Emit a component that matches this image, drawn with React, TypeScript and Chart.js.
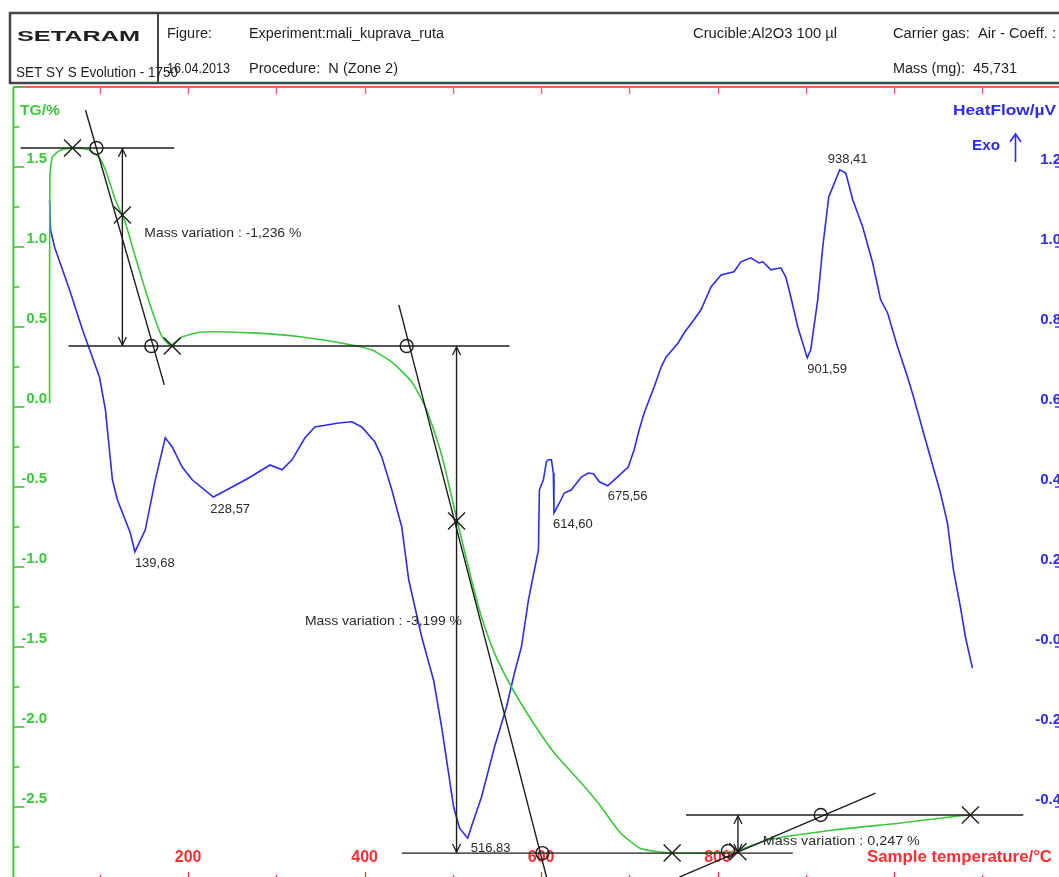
import React, { useEffect, useRef } from 'react';
import { Chart, registerables } from 'chart.js';
Chart.register(...registerables);

const FONT = "'Liberation Sans', Arial, Helvetica, sans-serif";

// ---------- data ----------
// TG curve: temperature (°C) and mass change (%)
const tgTemp = [
  43.0, 43.3, 46.4, 55.4, 69.0, 88.2, 99.5, 106.3, 117.6, 128.9,
  140.2, 151.5, 162.8, 170.7, 179.8, 193.3, 215.9, 272.5, 329.0, 385.5,
  408.1, 430.8, 453.4, 470.3, 487.3, 504.2, 521.2, 532.5, 547.2, 566.4,
  589.0, 615.0, 645.6, 668.2, 689.0, 711.5, 732.6, 748.5, 781.3, 820.9,
  857.0, 931.6, 1007.4, 1073.0, 1086.5,
];
const tgMass = [
  0.025, 1.438, 1.563, 1.606, 1.619, 1.606, 1.556, 1.481, 1.294, 1.15,
  0.938, 0.731, 0.544, 0.438, 0.388, 0.438, 0.469, 0.463, 0.438, 0.388,
  0.356, 0.281, 0.156, -0.019, -0.3, -0.694, -1.081, -1.313, -1.538, -1.75,
  -1.956, -2.163, -2.35, -2.5, -2.656, -2.756, -2.78, -2.788, -2.788, -2.775,
  -2.706, -2.644, -2.6, -2.556, -2.55,
];

// Heat flow curve: temperature (°C) and heat flow (µV)
const hfTemp = [
  43.0, 44.1, 48.6, 65.6, 80.3, 99.5, 106.3, 114.2, 119.8, 134.5,
  139.68, 151.5, 162.8, 174.1, 182.0, 193.3, 204.6, 228.57, 249.9, 269.1,
  292.8, 306.4, 317.7, 332.4, 343.7, 370.8, 385.5, 396.8, 411.5, 419.5,
  430.8, 442.1, 450.0, 464.7, 478.2, 487.3, 500.9, 507.6, 516.83, 521.2,
  532.5, 547.2, 560.8, 569.8, 577.7, 585.7, 591.3, 597.0, 598.1, 602.6,
  606.0, 608.3, 611.7, 613.9, 614.6, 620.7, 626.4, 634.3, 645.6, 653.5,
  659.2, 666.0, 675.56, 683.0, 698.7, 705.5, 711.2, 716.8, 728.1, 736.1,
  741.7, 755.3, 762.0, 773.3, 781.2, 792.6, 803.9, 818.6, 826.5, 837.8,
  846.8, 851.3, 860.4, 871.7, 877.4, 883.0, 890.9, 901.59, 905.6, 913.5,
  919.2, 926.0, 938.41, 945.3, 953.2, 964.5, 975.8, 984.8, 992.7, 1004.0,
  1015.3, 1022.1, 1035.6, 1052.6, 1060.5, 1067.3, 1075.2, 1080.9, 1088.8,
];
const hfValue = [
  1.118, 1.043, 1.0, 0.893, 0.793, 0.675, 0.593, 0.418, 0.368, 0.285,
  0.238, 0.293, 0.418, 0.523, 0.5, 0.45, 0.418, 0.375, 0.4, 0.423,
  0.455, 0.443, 0.468, 0.523, 0.55, 0.56, 0.563, 0.55, 0.513, 0.475,
  0.393, 0.3, 0.168, 0.025, -0.083, -0.2, -0.4, -0.453, -0.478, -0.448,
  -0.375, -0.25, -0.15, -0.065, 0.0, 0.118, 0.18, 0.243, 0.393, 0.418,
  0.463, 0.468, 0.468, 0.435, 0.335, 0.36, 0.385, 0.393, 0.425, 0.435,
  0.433, 0.413, 0.403, 0.418, 0.45, 0.493, 0.543, 0.585, 0.65, 0.7,
  0.725, 0.76, 0.785, 0.818, 0.843, 0.9, 0.93, 0.938, 0.963, 0.973,
  0.96, 0.963, 0.943, 0.948, 0.925, 0.875, 0.8, 0.723, 0.743, 0.868,
  1.0, 1.125, 1.193, 1.185, 1.118, 1.05, 0.96, 0.868, 0.835, 0.75,
  0.675, 0.625, 0.518, 0.385, 0.31, 0.193, 0.1, 0.025, -0.053,
];

// Peak labels on the heat flow curve
const peakTemp = [139.68, 228.57, 516.83, 614.6, 675.56, 901.59, 938.41];
const peakValue = [0.238, 0.375, -0.478, 0.335, 0.403, 0.723, 1.193];

// Construction lines (tangents and baselines) on the TG axis
const lineTemp = [
  [10.2, 184.3], [64.4, 564.2], [83.7, 173.0],
  [438.8, 606.2], [442.1, 885.3], [756.6, 979.1], [764.3, 1146.4],
];
const lineMass = [
  [1.619, 1.619], [0.381, 0.381], [1.856, 0.138],
  [0.638, -2.938], [-2.788, -2.788], [-2.938, -2.413], [-2.55, -2.55],
];

// Mass variation arrows
const massArrowTemp = [125.5, 504.2, 823.1];
const massArrowTop = [1.619, 0.381, -2.55];
const massArrowBottom = [0.381, -2.788, -2.788];
const massText = ['Mass variation : -1,236 %', 'Mass variation : -3,199 %', 'Mass variation : 0,247 %'];
const massTextTemp = [150.4, 332.4, 851.3];
const massTextMass = [1.0625, -1.3625, -2.7375];

// Markers
const crossTemp = [69.0, 125.5, 182.0, 504.2, 748.5, 823.1, 1086.5];
const crossMass = [1.619, 1.2, 0.381, -0.713, -2.788, -2.78, -2.55];
const circleTemp = [96.1, 158.3, 447.7, 601.5, 811.8, 916.9];
const circleMass = [1.619, 0.381, 0.381, -2.788, -2.775, -2.55];

// Tick labels
const tgTicks = [1.5, 1.0, 0.5, 0.0, -0.5, -1.0, -1.5, -2.0, -2.5];
const tgTickLabels = ['1.5', '1.0', '0.5', '0.0', '-0.5', '-1.0', '-1.5', '-2.0', '-2.5'];
const hfTicks = [1.2, 1.0, 0.8, 0.6, 0.4, 0.2, 0.0, -0.2, -0.4];
const hfTickLabels = ['1.2', '1.0', '0.8', '0.6', '0.4', '0.2', '-0.0', '-0.2', '-0.4'];
const tempTicks = [200, 400, 600, 800];

// Header texts
const headerTexts = [
  { s: 'SETARAM', x: 17, y: 41, w: 123, f: `bold 14px ${FONT}` },
  { s: 'Figure:', x: 167, y: 38, w: 45, f: `14px ${FONT}` },
  { s: 'Experiment:mali_kuprava_ruta', x: 249, y: 38, w: 195, f: `14px ${FONT}` },
  { s: 'Crucible:Al2O3 100 µl', x: 693, y: 38, w: 144, f: `14px ${FONT}` },
  { s: 'Carrier gas:  Air - Coeff. :', x: 893, y: 38, w: 163, f: `14px ${FONT}` },
  { s: '16.04.2013', x: 167, y: 73, w: 63, f: `14px ${FONT}` },
  { s: 'SET SY S Evolution - 1750', x: 16, y: 77, w: 162, f: `14px ${FONT}` },
  { s: 'Procedure:  N (Zone 2)', x: 249, y: 73, w: 149, f: `14px ${FONT}` },
  { s: 'Mass (mg):  45,731', x: 893, y: 73, w: 124, f: `14px ${FONT}` },
];

// ---------- styles ----------
const GREEN = '#3cc83c';
const BLUE = '#2b2bf2';
const RED = '#ff2e2e';
const BLACK = '#1c1c1c';

function txt(ctx: CanvasRenderingContext2D, s: string, x: number, y: number, font: string, color: string, w?: number, align: 'left' | 'right' | 'center' = 'left') {
  ctx.save();
  ctx.font = font;
  ctx.fillStyle = color;
  ctx.textBaseline = 'alphabetic';
  ctx.textAlign = 'left';
  const m = ctx.measureText(s).width;
  const width = w ?? m;
  const sx = width / m;
  let x0 = x;
  if (align === 'right') x0 = x - width;
  if (align === 'center') x0 = x - width / 2;
  ctx.translate(x0, y);
  ctx.scale(sx, 1);
  ctx.fillText(s, 0, 0);
  ctx.restore();
}

function seg(ctx: CanvasRenderingContext2D, x1: number, y1: number, x2: number, y2: number) {
  ctx.beginPath();
  ctx.moveTo(x1, y1);
  ctx.lineTo(x2, y2);
  ctx.stroke();
}

const decor = {
  id: 'decor',
  beforeDatasetsDraw(chart: any) {
    const { ctx, chartArea: a, scales } = chart;
    const sx = scales.x, sy = scales.y, sy2 = scales.y2;
    ctx.save();
    // header box
    ctx.strokeStyle = '#444';
    ctx.lineWidth = 2.5;
    ctx.strokeRect(10, 13, 1085, 70);
    ctx.lineWidth = 2;
    seg(ctx, 158, 13, 158, 83);
    headerTexts.forEach((h) => txt(ctx, h.s, h.x, h.y, h.f, '#1e1e1e', h.w));

    // top red border with ticks
    ctx.strokeStyle = '#ff5a5a';
    ctx.lineWidth = 2;
    seg(ctx, a.left, a.top, a.right, a.top);
    ctx.lineWidth = 1.3;
    for (let t = 100; t <= 1100; t += 100) {
      const px = Math.round(sx.getPixelForValue(t)) + 0.5;
      seg(ctx, px, a.top, px, a.top + 7);
    }
    // bottom red ticks
    ctx.strokeStyle = RED;
    for (let t = 100; t <= 1100; t += 100) {
      const px = Math.round(sx.getPixelForValue(t)) + 0.5;
      const len = t % 200 === 0 ? 8 : 5;
      seg(ctx, px, a.bottom, px, a.bottom - len);
    }
    // left green axis
    ctx.strokeStyle = GREEN;
    ctx.lineWidth = 2;
    seg(ctx, a.left, a.top, a.left, a.bottom);
    ctx.lineWidth = 1.6;
    for (let k = -12; k <= 8; k++) {
      const v = k * 0.25;
      const py = sy.getPixelForValue(v);
      if (py < a.top - 1 || py > a.bottom) continue;
      const len = k % 2 === 0 ? 11 : 6;
      seg(ctx, a.left, py, a.left + len, py);
    }
    // right blue axis ticks
    ctx.strokeStyle = BLUE;
    ctx.lineWidth = 1.4;
    for (let k = -5; k <= 14; k++) {
      const v = k * 0.1;
      const py = sy2.getPixelForValue(v);
      if (py < a.top || py > a.bottom) continue;
      const len = k % 2 === 0 ? 12 : 6;
      seg(ctx, a.right, py, a.right - len, py);
    }
    // tick labels
    tgTicks.forEach((v, i) => {
      txt(ctx, tgTickLabels[i], 47, sy.getPixelForValue(v) - 4, `bold 15px ${FONT}`, GREEN, undefined, 'right');
    });
    hfTicks.forEach((v, i) => {
      txt(ctx, hfTickLabels[i], 1061, sy2.getPixelForValue(v) - 3, `bold 15px ${FONT}`, BLUE, undefined, 'right');
    });
    tempTicks.forEach((t) => {
      txt(ctx, String(t), sx.getPixelForValue(t), 862, `bold 16px ${FONT}`, RED, undefined, 'center');
    });
    // axis titles
    txt(ctx, 'TG/%', 20, 115, `bold 15px ${FONT}`, GREEN, 40);
    txt(ctx, 'HeatFlow/µV', 953, 115, `bold 15px ${FONT}`, BLUE, 103);
    txt(ctx, 'Exo', 972, 150, `bold 15px ${FONT}`, BLUE, 28);
    txt(ctx, 'Sample temperature/°C', 867, 862, `bold 16px ${FONT}`, RED, 185);
    ctx.strokeStyle = BLUE;
    ctx.lineWidth = 1.6;
    seg(ctx, 1015.5, 162, 1015.5, 134);
    ctx.beginPath();
    ctx.moveTo(1010, 142);
    ctx.lineTo(1015.5, 134);
    ctx.lineTo(1021, 142);
    ctx.stroke();
    ctx.restore();
  },
  afterDatasetsDraw(chart: any) {
    const { ctx, scales } = chart;
    const sx = scales.x, sy = scales.y, sy2 = scales.y2;
    ctx.save();
    // arrow heads of the mass variation arrows
    ctx.strokeStyle = BLACK;
    ctx.lineWidth = 1.3;
    massArrowTemp.forEach((t, i) => {
      const px = sx.getPixelForValue(t);
      const top = sy.getPixelForValue(massArrowTop[i]);
      const bot = sy.getPixelForValue(massArrowBottom[i]);
      ctx.beginPath();
      ctx.moveTo(px - 4, top + 9);
      ctx.lineTo(px, top + 1);
      ctx.lineTo(px + 4, top + 9);
      ctx.stroke();
      ctx.beginPath();
      ctx.moveTo(px - 4, bot - 9);
      ctx.lineTo(px, bot - 1);
      ctx.lineTo(px + 4, bot - 9);
      ctx.stroke();
    });
    // mass variation texts
    massText.forEach((s, i) => {
      txt(ctx, s, sx.getPixelForValue(massTextTemp[i]), sy.getPixelForValue(massTextMass[i]), `13px ${FONT}`, '#2a2a2a', 157);
    });
    // peak labels
    const off = [[0, 15], [-3, 16], [3, 14], [-1, 15], [0, 14], [0, 15], [-12, -7]];
    peakTemp.forEach((t, i) => {
      const px = sx.getPixelForValue(t);
      const py = sy2.getPixelForValue(peakValue[i]);
      txt(ctx, t.toFixed(2).replace('.', ','), px + off[i][0], py + off[i][1], `13px ${FONT}`, '#2a2a2a');
    });
    ctx.restore();
  },
};

function pts(xs: number[], ys: number[]) {
  return xs.map((x, i) => ({ x, y: ys[i] }));
}

export default function App() {
  const ref = useRef<HTMLCanvasElement>(null);
  useEffect(() => {
    const lineSets = lineTemp.map((xs, i) => ({
      data: pts(xs, lineMass[i]),
      showLine: true,
      borderColor: BLACK,
      borderWidth: 1.4,
      pointRadius: 0,
      yAxisID: 'y',
    }));
    const arrowSets = massArrowTemp.map((t, i) => ({
      data: pts([t, t], [massArrowTop[i], massArrowBottom[i]]),
      showLine: true,
      borderColor: BLACK,
      borderWidth: 1.4,
      pointRadius: 0,
      yAxisID: 'y',
    }));
    const datasets: any[] = [
      {
        data: pts(crossTemp, crossMass),
        showLine: false,
        pointStyle: 'crossRot',
        pointRadius: 12,
        pointBorderWidth: 1.4,
        pointBorderColor: BLACK,
        pointBackgroundColor: 'rgba(0,0,0,0)',
        yAxisID: 'y',
      },
      {
        data: pts(circleTemp, circleMass),
        showLine: false,
        pointStyle: 'circle',
        pointRadius: 6.5,
        pointBorderWidth: 1.4,
        pointBorderColor: BLACK,
        pointBackgroundColor: 'rgba(0,0,0,0)',
        yAxisID: 'y',
      },
      ...lineSets,
      ...arrowSets,
      {
        data: pts(tgTemp, tgMass),
        showLine: true,
        borderColor: GREEN,
        borderWidth: 1.6,
        pointRadius: 0,
        tension: 0.2,
        yAxisID: 'y',
      },
      {
        data: pts(hfTemp, hfValue),
        showLine: true,
        borderColor: BLUE,
        borderWidth: 1.6,
        pointRadius: 0,
        tension: 0,
        yAxisID: 'y2',
      },
    ];
    const chart = new Chart(ref.current as HTMLCanvasElement, {
      type: 'scatter',
      data: { datasets },
      options: {
        responsive: false,
        animation: false,
        events: [],
        layout: { padding: { left: 11, top: 87, right: 33, bottom: 20 } },
        plugins: { legend: { display: false }, tooltip: { enabled: false } },
        scales: {
          x: { type: 'linear', min: 2, max: 1196, display: false },
          y: { type: 'linear', min: -2.95625, max: 2.0, display: false },
          y2: { type: 'linear', min: -0.5825, max: 1.4, display: false },
        },
      },
      plugins: [decor],
    } as any);
    return () => chart.destroy();
  }, []);
  return (
    <div style={{ position: 'fixed', left: 0, top: 0, width: 1059, height: 877, overflow: 'hidden', background: '#fff' }}>
      <canvas ref={ref} width={1100} height={900} style={{ display: 'block' }} />
    </div>
  );
}
